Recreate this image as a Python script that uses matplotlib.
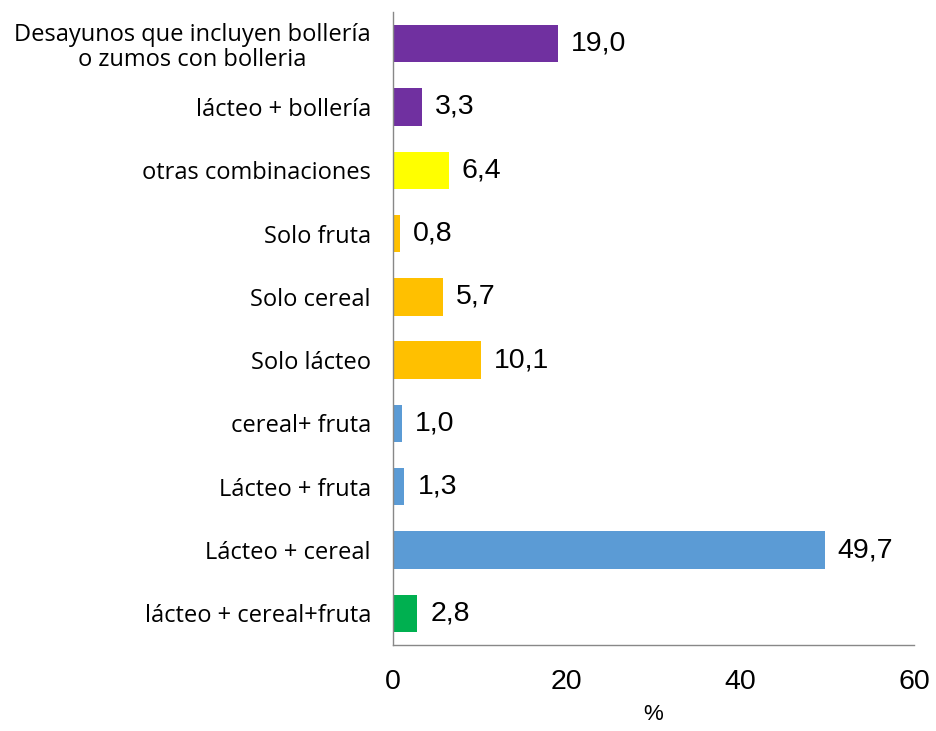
import matplotlib.pyplot as plt
import numpy as np

# ── Data ──────────────────────────────────────────────────────────────────────
categories = [
    "Desayunos que incluyen bollería\no zumos con bolleria",
    "lácteo + bollería",
    "otras combinaciones",
    "Solo fruta",
    "Solo cereal",
    "Solo lácteo",
    "cereal+ fruta",
    "Lácteo + fruta",
    "Lácteo + cereal",
    "lácteo + cereal+fruta",
]
values = [19.0, 3.3, 6.4, 0.8, 5.7, 10.1, 1.0, 1.3, 49.7, 2.8]
colors = ["#7030A0", "#7030A0", "#FFFF00", "#FFC000", "#FFC000", "#FFC000",
          "#5B9BD5", "#5B9BD5", "#5B9BD5", "#00B050"]
x_ticks = [0, 20, 40, 60]

# ── Plot ──────────────────────────────────────────────────────────────────────
fig = plt.figure(figsize=(9.36, 7.31), dpi=100)
ax = fig.add_axes([0.42, 0.1176, 0.5565, 0.866])

y = np.arange(len(categories))
ax.barh(y, values, height=0.59, color=colors)
ax.set_ylim(len(categories) - 0.5, -0.5)
ax.set_xlim(0, 60)

for yi, v in zip(y, values):
    ax.text(v + 1.5, yi, f"{v:.1f}".replace(".", ","), va="center", ha="left",
            fontsize=20.5, family="Liberation Sans")

ax.set_yticks(y)
ax.set_yticklabels(categories, fontsize=17, family="Open Sans",
                   ha="right", multialignment="center", linespacing=1.1)
ax.tick_params(axis="y", length=0, pad=16)
ax.set_xticks(x_ticks)
ax.set_xticklabels([str(t) for t in x_ticks], fontsize=20.5, family="Liberation Sans")
ax.tick_params(axis="x", length=0, pad=17)
ax.set_xlabel("%", fontsize=16, family="Liberation Sans", labelpad=7)

for s in ["top", "right"]:
    ax.spines[s].set_visible(False)
for s in ["left", "bottom"]:
    ax.spines[s].set_color("#888888")
    ax.spines[s].set_linewidth(1)

fig.savefig("out.png", dpi=100)
